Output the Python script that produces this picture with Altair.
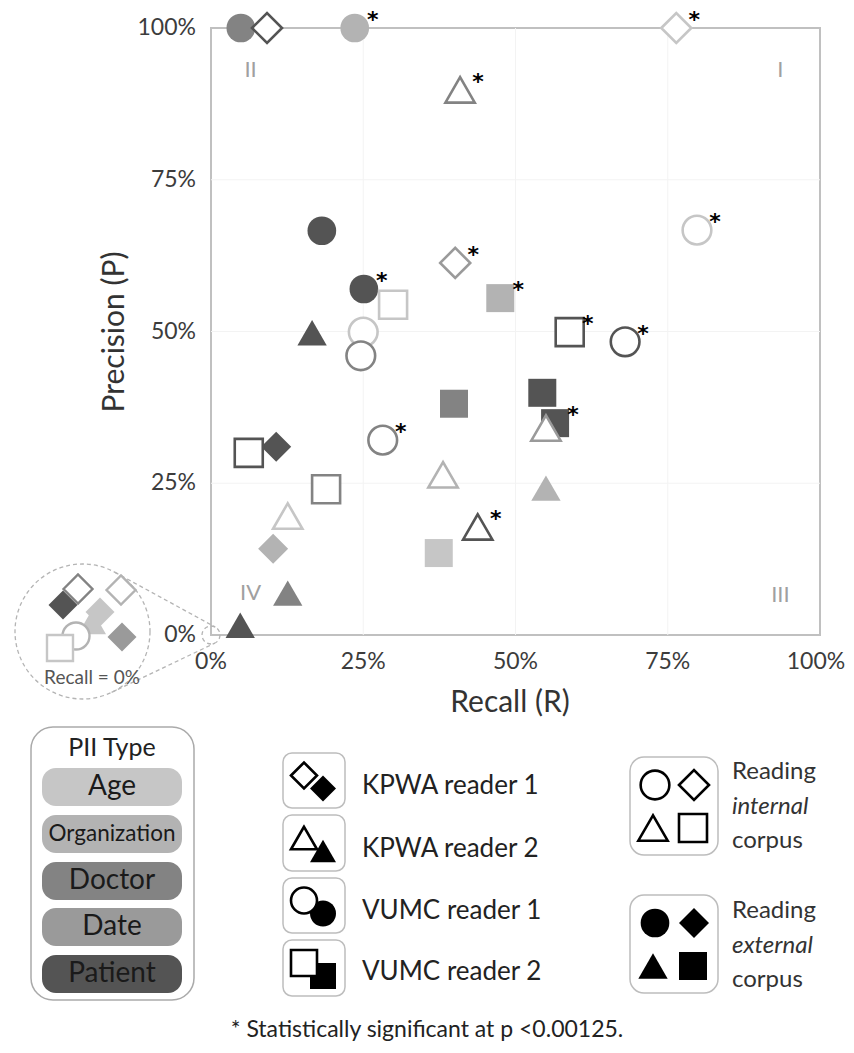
import math
import altair as alt
import pandas as pd

# ---------------- data ----------------
pii_types = ["Age", "Organization", "Doctor", "Date", "Patient"]
pii_colors = ["#c6c6c6", "#b3b3b3", "#838383", "#9a9a9a", "#545454"]
readers = ["KPWA reader 1", "KPWA reader 2", "VUMC reader 1", "VUMC reader 2"]
reader_shapes = ["diamond", "triangle-up", "circle", "square"]
K1, K2, V1, V2 = readers

recall = [0.049, 0.092, 0.236, 0.764, 0.409, 0.182, 0.401, 0.251, 0.299, 0.475,
          0.798, 0.166, 0.250, 0.246, 0.589, 0.680, 0.544, 0.399, 0.550, 0.565,
          0.282, 0.062, 0.107, 0.381, 0.189, 0.126, 0.438, 0.102, 0.374, 0.550,
          0.126, 0.048]
precision = [1.000, 1.000, 1.000, 1.000, 0.898, 0.666, 0.613, 0.570, 0.544, 0.555,
             0.667, 0.498, 0.499, 0.460, 0.499, 0.483, 0.399, 0.381, 0.341, 0.349,
             0.321, 0.300, 0.310, 0.264, 0.240, 0.196, 0.178, 0.142, 0.135, 0.242,
             0.069, 0.016]
pii = ["Doctor", "Patient", "Organization", "Age", "Doctor", "Patient", "Date", "Patient", "Age", "Organization",
       "Age", "Patient", "Age", "Doctor", "Patient", "Patient", "Patient", "Doctor", "Date", "Patient",
       "Doctor", "Patient", "Patient", "Organization", "Doctor", "Age", "Patient", "Organization", "Age", "Organization",
       "Doctor", "Patient"]
reader = [V1, K1, V1, K1, K2, V1, K1, V1, V2, V2,
          V1, K2, V1, V1, V2, V1, V2, V2, K2, V2,
          V1, V2, K1, K2, V2, K2, K2, K1, V2, K2,
          K2, K2]
corpus = ["external", "internal", "external", "internal", "internal", "external", "internal", "external", "internal", "external",
          "internal", "external", "internal", "internal", "internal", "internal", "external", "external", "internal", "external",
          "internal", "internal", "external", "internal", "internal", "internal", "internal", "external", "external", "external",
          "external", "external"]
significant = [False, False, True, True, True, False, True, True, False, True,
               True, False, False, False, True, True, False, False, False, True,
               True, False, False, False, False, False, True, False, False, False,
               False, False]

# results with Recall = 0% (shown magnified in the inset)
inset_pii = ["Age", "Patient", "Age", "Date", "Organization", "Age", "Doctor", "Organization"]
inset_reader = [K2, K1, K1, K1, V1, V2, K1, K1]
inset_corpus = ["external", "external", "external", "external", "internal", "internal", "internal", "internal"]

quadrant_labels = ["I", "II", "III", "IV"]
quadrant_recall = [0.935, 0.065, 0.935, 0.065]
quadrant_precision = [0.93, 0.93, 0.066, 0.07]

tick_values = [0, 0.25, 0.5, 0.75, 1.0]
grid_values = [0.25, 0.5, 0.75]

# ---------------- layout ----------------
FONT = "Lato"
OX, OY, W, H = 211, 28, 609, 607          # page position / size of plot area
CANVAS_W, CANVAS_H = 838, 1037


def ux(px):
    return (px - OX) / W


def uy(py):
    return (OY + H - py) / H


def vx(px):
    return px - OX


def vy(py):
    return py - OY


xs = alt.Scale(domain=[0, 1], nice=False, zero=False)
ys = alt.Scale(domain=[0, 1], nice=False, zero=False)
type_scale = alt.Scale(domain=pii_types, range=pii_colors)
shape_scale = alt.Scale(domain=readers, range=reader_shapes)


def XY(xf="recall", yf="precision"):
    return dict(x=alt.X(f"{xf}:Q", scale=xs, axis=None),
                y=alt.Y(f"{yf}:Q", scale=ys, axis=None))


def PXY(xf="x", yf="y"):
    return dict(x=alt.X(f"{xf}:Q", scale=None, axis=None),
                y=alt.Y(f"{yf}:Q", scale=None, axis=None))


pts = pd.DataFrame(dict(recall=recall, precision=precision, type=pii,
                        reader=reader, corpus=corpus, sig=significant))

# ---- axes (grid, tick labels, titles) drawn through the scales ----
gdf = pd.DataFrame(dict(v=grid_values))
grid_color = "#f3f3f3"
vgrid = alt.Chart(gdf).mark_rule(color=grid_color, strokeWidth=1).encode(
    x=alt.X("v:Q", scale=xs, axis=None), y=alt.value(0), y2=alt.value(H))
hgrid = alt.Chart(gdf).mark_rule(color=grid_color, strokeWidth=1).encode(
    y=alt.Y("v:Q", scale=ys, axis=None), x=alt.value(0), x2=alt.value(W))

tdf_ticks = pd.DataFrame(dict(v=tick_values))
label_style = dict(font=FONT, fontSize=23, color="#3c3c3c", baseline="middle")
xlabels = alt.Chart(tdf_ticks).transform_filter("datum.v < 1").transform_calculate(
    lab="format(datum.v, '.0%')").mark_text(**label_style).encode(
    x=alt.X("v:Q", scale=xs, axis=None), y=alt.value(662 - OY), text="lab:N")
xlabel_end = alt.Chart(tdf_ticks).transform_filter("datum.v >= 1").transform_calculate(
    lab="format(datum.v, '.0%')").mark_text(dx=-4, **label_style).encode(
    x=alt.X("v:Q", scale=xs, axis=None), y=alt.value(662 - OY), text="lab:N")
ylabels = alt.Chart(tdf_ticks).transform_calculate(lab="format(datum.v, '.0%')").mark_text(
    align="right", **label_style).encode(
    y=alt.Y("v:Q", scale=ys, axis=None), x=alt.value(-15), text="lab:N")
xtitle = alt.Chart(pd.DataFrame(dict(x=[vx(510)], y=[vy(703)], t=["Recall (R)"]))).mark_text(
    font=FONT, fontSize=30, color="#333333").encode(**PXY(), text="t:N")
ytitle = alt.Chart(pd.DataFrame(dict(x=[vx(115)], y=[vy(332)], t=["Precision (P)"]))).mark_text(
    font=FONT, fontSize=30, color="#333333", angle=270).encode(**PXY(), text="t:N")

main_size = alt.Size("reader:N", scale=alt.Scale(domain=readers, range=[900, 784, 676, 676]), legend=None)
shape_enc = alt.Shape("reader:N", scale=shape_scale, legend=None)

filled = alt.Chart(pts).transform_filter("datum.corpus == 'external'").mark_point(
    filled=True, opacity=1).encode(
    **XY(),
    fill=alt.Fill("type:N", scale=type_scale, legend=None),
    shape=shape_enc, size=main_size)

hollow = alt.Chart(pts).transform_filter("datum.corpus == 'internal'").mark_point(
    filled=True, fill="white", opacity=1, strokeWidth=2.6).encode(
    **XY(),
    stroke=alt.Stroke("type:N", scale=type_scale, legend=None),
    shape=shape_enc, size=main_size)

stars = alt.Chart(pts).transform_filter("datum.sig").mark_text(
    text="*", font="DejaVu Sans", fontSize=22, fontWeight="bold", color="black",
    align="center", baseline="alphabetic", dx=18, dy=-1).encode(**XY())

qdf = pd.DataFrame(dict(label=quadrant_labels, qx=quadrant_recall, qy=quadrant_precision))
quads = alt.Chart(qdf).mark_text(font=FONT, fontSize=22, color="#a0a0a0").encode(
    **XY("qx", "qy"), text="label:N")

# ---- inset (Recall = 0%) ----
C1, R1 = (82.5, 631.5), 67.5
C2, R2 = (OX, OY + H), 9


def ext_tangents(c1, r1, c2, r2):
    dxp, dyp = c2[0] - c1[0], c2[1] - c1[1]
    d = math.hypot(dxp, dyp)
    uxx, uyy = dxp / d, dyp / d
    c = (r1 - r2) / d
    h = math.sqrt(1 - c * c)
    out = []
    for s in (1, -1):
        nx = c * uxx - s * h * uyy
        ny = c * uyy + s * h * uxx
        out.append(((c1[0] + r1 * nx, c1[1] + r1 * ny), (c2[0] + r2 * nx, c2[1] + r2 * ny)))
    return out


tan = ext_tangents(C1, R1, C2, R2)
tdf = pd.DataFrame(dict(x=[ux(a[0]) for a, b in tan], y=[uy(a[1]) for a, b in tan],
                        x2=[ux(b[0]) for a, b in tan], y2=[uy(b[1]) for a, b in tan]))
ring_style = dict(stroke="#b4b4b4", strokeWidth=1.3, strokeDash=[4, 3])
rules = alt.Chart(tdf).mark_rule(**ring_style).encode(
    **XY("x", "y"), x2=alt.X2("x2"), y2=alt.Y2("y2"))
rings = alt.Chart(pd.DataFrame(dict(cx=[ux(C1[0]), ux(C2[0])], cy=[uy(C1[1]), uy(C2[1])],
                                    d=[2 * R1, 2 * R2]))).mark_point(
    shape="circle", filled=False, opacity=1, **ring_style).encode(
    **XY("cx", "cy"),
    size=alt.Size("d:Q", scale=alt.Scale(type="pow", exponent=2, domain=[0, 2 * R1], range=[0, (2 * R1) ** 2]), legend=None))

INSET_PX = [(92, 622), (63, 605), (100, 612), (122, 637), (76, 636), (60, 648), (78, 589), (121, 590)]
idf = pd.DataFrame(dict(recall=[ux(p[0]) for p in INSET_PX], precision=[uy(p[1]) for p in INSET_PX],
                        type=inset_pii, reader=inset_reader, corpus=inset_corpus))
inset_size = alt.Size("reader:N", scale=alt.Scale(domain=readers, range=[841, 676, 625, 576]), legend=None)
inset_filled = alt.Chart(idf).transform_filter("datum.corpus == 'external'").mark_point(
    filled=True, opacity=1).encode(
    **XY(), fill=alt.Fill("type:N", scale=type_scale, legend=None), shape=shape_enc, size=inset_size)
inset_hollow = alt.Chart(idf).transform_filter("datum.corpus == 'internal'").mark_point(
    filled=True, fill="white", opacity=1, strokeWidth=2.4).encode(
    **XY(), stroke=alt.Stroke("type:N", scale=type_scale, legend=None), shape=shape_enc, size=inset_size)
inset_text = alt.Chart(pd.DataFrame(dict(x=[ux(92)], y=[uy(678)], t=["Recall = 0%"]))).mark_text(
    font=FONT, fontSize=19, color="#555555").encode(**XY("x", "y"), text="t:N")

# ---- legends (pixel layout) ----


def rect_layer(df, radius, **kw):
    return alt.Chart(df).mark_rect(cornerRadius=radius, **kw).encode(
        x=alt.X("x0:Q", scale=None, axis=None), x2=alt.X2("x1"),
        y=alt.Y("y0:Q", scale=None, axis=None), y2=alt.Y2("y1"))


pii_box = rect_layer(pd.DataFrame(dict(x0=[vx(31)], x1=[vx(194)], y0=[vy(727)], y1=[vy(1000)])),
                     22, fill="white", stroke="#aaaaaa", strokeWidth=1.5)
PILL_Y = [787, 834, 881, 927, 974]
pill_df = pd.DataFrame(dict(type=pii_types, x0=vx(42), x1=vx(182),
                            y0=[vy(c - 19) for c in PILL_Y], y1=[vy(c + 19) for c in PILL_Y],
                            x=vx(112), y=[vy(c) for c in PILL_Y]))
pills = alt.Chart(pill_df).mark_rect(cornerRadius=14).encode(
    x=alt.X("x0:Q", scale=None, axis=None), x2=alt.X2("x1"),
    y=alt.Y("y0:Q", scale=None, axis=None), y2=alt.Y2("y1"),
    fill=alt.Fill("type:N", scale=type_scale, legend=None))
pill_text_big = alt.Chart(pill_df).transform_filter("datum.type != 'Organization'").mark_text(
    font=FONT, fontSize=28, color="#1a1a1a").encode(**PXY(), text="type:N")
pill_text_small = alt.Chart(pill_df).transform_filter("datum.type == 'Organization'").mark_text(
    font=FONT, fontSize=22.5, color="#1a1a1a").encode(**PXY(), text="type:N")
pii_title = alt.Chart(pd.DataFrame(dict(x=[vx(112)], y=[vy(748)], t=["PII Type"]))).mark_text(
    font=FONT, fontSize=25, color="#222222").encode(**PXY(), text="t:N")

RBOX_Y = [(753, 808), (815, 871), (878, 933), (940, 996)]
rbox = rect_layer(pd.DataFrame(dict(x0=vx(283), x1=vx(345), y0=[vy(a) for a, b in RBOX_Y],
                                    y1=[vy(b) for a, b in RBOX_Y])),
                  9, fill="white", stroke="#bdbdbd", strokeWidth=1.5)
rc = [(a + b) / 2 for a, b in RBOX_Y]
ricons = pd.DataFrame(dict(reader=readers * 2,
                           kind=["internal"] * 4 + ["external"] * 4,
                           x=[vx(304)] * 4 + [vx(323)] * 4,
                           y=[vy(c - 5) for c in rc] + [vy(c + 8) for c in rc]))
rsize = alt.Size("reader:N", scale=alt.Scale(domain=readers, range=[676, 676, 576, 576]), legend=None)
ricon_f = alt.Chart(ricons).transform_filter("datum.kind == 'external'").mark_point(
    filled=True, opacity=1, color="black").encode(**PXY(), shape=shape_enc, size=rsize)
ricon_h = alt.Chart(ricons).transform_filter("datum.kind == 'internal'").mark_point(
    filled=True, fill="white", stroke="black", strokeWidth=2.6, opacity=1).encode(
    **PXY(), shape=shape_enc, size=rsize)
rlab = alt.Chart(pd.DataFrame(dict(x=vx(362), y=[vy(v) for v in [786, 849, 911, 972]], t=readers))).mark_text(
    font=FONT, fontSize=26, color="#222222", align="left").encode(**PXY(), text="t:N")

CBOX_Y = [(757, 855), (895, 993)]
cbox = rect_layer(pd.DataFrame(dict(x0=vx(630), x1=vx(718), y0=[vy(a) for a, b in CBOX_Y],
                                    y1=[vy(b) for a, b in CBOX_Y])),
                  14, fill="white", stroke="#bdbdbd", strokeWidth=1.5)
grid_readers = [V1, K1, K2, V2]
grid_dx = [655, 694, 653, 693]
grid_dy = [-21, -21, 22, 22]
cicons = pd.DataFrame(dict(
    reader=grid_readers * 2, kind=["internal"] * 4 + ["external"] * 4,
    x=[vx(v) for v in grid_dx] * 2,
    y=[vy((CBOX_Y[0][0] + CBOX_Y[0][1]) / 2 + d) for d in grid_dy] +
      [vy((CBOX_Y[1][0] + CBOX_Y[1][1]) / 2 + d) for d in grid_dy]))
csize = alt.Size("reader:N", scale=alt.Scale(domain=readers, range=[900, 784, 729, 676]), legend=None)
cicon_f = alt.Chart(cicons).transform_filter("datum.kind == 'external'").mark_point(
    filled=True, opacity=1, color="black").encode(**PXY(), shape=shape_enc, size=csize)
cicon_h = alt.Chart(cicons).transform_filter("datum.kind == 'internal'").mark_point(
    filled=True, fill="white", stroke="black", strokeWidth=2.6, opacity=1).encode(
    **PXY(), shape=shape_enc, size=csize)
clab_df = pd.DataFrame(dict(x=vx(732), y=[vy(v) for v in [772, 807, 841, 911, 946, 980]],
                            t=["Reading", "internal", "corpus", "Reading", "external", "corpus"],
                            it=[False, True, False, False, True, False]))
clab = alt.Chart(clab_df).transform_filter("!datum.it").mark_text(
    font=FONT, fontSize=24, color="#333333", align="left").encode(**PXY(), text="t:N")
clab_it = alt.Chart(clab_df).transform_filter("datum.it").mark_text(
    font=FONT, fontSize=24, color="#333333", align="left", fontStyle="italic").encode(**PXY(), text="t:N")

foot = alt.Chart(pd.DataFrame(dict(x=[vx(427)], y=[vy(1030)], t=["* Statistically significant at p <0.00125."]))).mark_text(
    font=FONT, fontSize=23, color="#222222").encode(**PXY(), text="t:N")

chart = alt.layer(
    vgrid, hgrid, xlabels, xlabel_end, ylabels, xtitle, ytitle,
    filled, hollow, stars, quads,
    rules, rings, inset_filled, inset_hollow, inset_text,
    pii_box, pills, pill_text_big, pill_text_small, pii_title,
    rbox, ricon_f, ricon_h, rlab,
    cbox, cicon_f, cicon_h, clab, clab_it,
    foot,
).resolve_scale(size="independent").properties(
    width=W, height=H,
    autosize=alt.AutoSizeParams(type="none"),
    padding={"left": OX - 8, "top": OY - 8,
             "right": CANVAS_W - (OX - 8) - W, "bottom": CANVAS_H - (OY - 8) - H},
).configure_view(stroke="#c0c0c0", strokeWidth=2)

chart.save("out.html", embed_options={"renderer": "svg", "actions": False})
